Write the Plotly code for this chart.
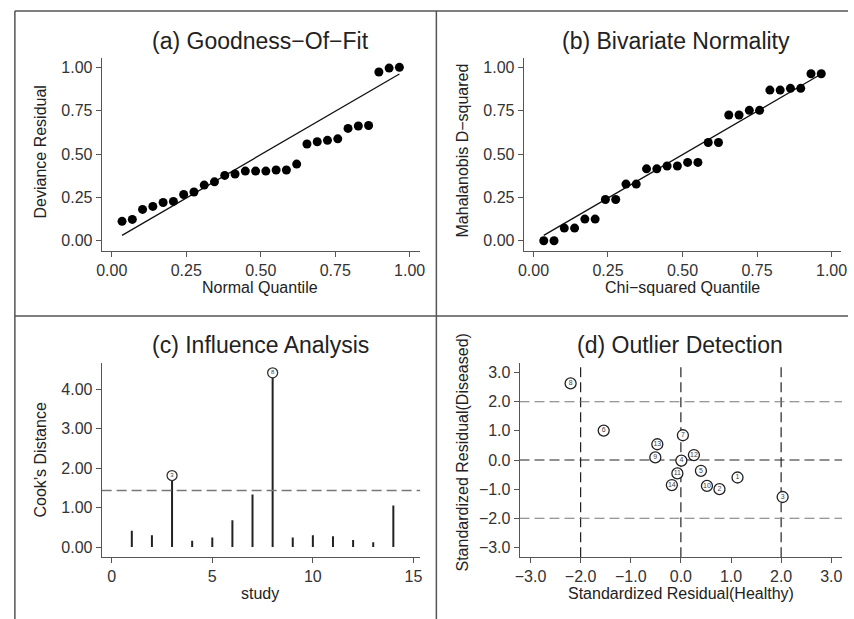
import plotly.graph_objects as go

W, H = 854, 619
FONT = "Liberation Sans, Arial, sans-serif"
MINUS = "\u2212"

# ---------------- data ----------------
quantile_x = [0.0345, 0.0690, 0.1034, 0.1379, 0.1724, 0.2069, 0.2414, 0.2759,
              0.3103, 0.3448, 0.3793, 0.4138, 0.4483, 0.4828, 0.5172, 0.5517,
              0.5862, 0.6207, 0.6552, 0.6897, 0.7241, 0.7586, 0.7931, 0.8276,
              0.8621, 0.8966, 0.9310, 0.9655]
deviance_resid = [0.112, 0.123, 0.181, 0.198, 0.221, 0.227, 0.267, 0.281,
                  0.321, 0.340, 0.377, 0.385, 0.402, 0.402, 0.402, 0.408,
                  0.408, 0.442, 0.558, 0.571, 0.579, 0.588, 0.648, 0.662,
                  0.665, 0.973, 0.996, 1.000]
fit_a_x = [0.0345, 0.9655]
fit_a_y = [0.031, 0.962]

mahal_d2 = [0.000, 0.000, 0.073, 0.073, 0.125, 0.125, 0.238, 0.238,
            0.327, 0.327, 0.415, 0.415, 0.431, 0.431, 0.452, 0.452,
            0.567, 0.567, 0.725, 0.725, 0.752, 0.752, 0.869, 0.869,
            0.879, 0.879, 0.963, 0.963]
fit_b_x = [0.0345, 0.9655]
fit_b_y = [0.031, 0.962]

studies = [1, 2, 3, 4, 5, 6, 7, 8, 9, 10, 11, 12, 13, 14]
cooks_d = [0.41, 0.30, 1.81, 0.16, 0.24, 0.675, 1.33, 4.41, 0.24, 0.30, 0.27, 0.18, 0.12, 1.05]
cooks_threshold = 1.43
influential = [3, 8]

resid_healthy = [1.13, 0.77, 2.03, 0.01, 0.40, -1.54, 0.04, -2.20, -0.51, 0.52, -0.07, 0.26, -0.47, -0.18]
resid_diseased = [-0.60, -1.00, -1.27, -0.02, -0.37, 1.01, 0.85, 2.63, 0.09, -0.89, -0.46, 0.17, 0.54, -0.86]
cut_lines = [-2, 0, 2]

ticks_q = [0, 0.25, 0.5, 0.75, 1.0]
ticks_q_text = ["0.00", "0.25", "0.50", "0.75", "1.00"]
ticks_c_x = [0, 5, 10, 15]
ticks_c_y = [0, 1, 2, 3, 4]
ticks_c_y_text = ["0.00", "1.00", "2.00", "3.00", "4.00"]
ticks_d = [-3, -2, -1, 0, 1, 2, 3]
ticks_d_text = [f"{v:.1f}".replace("-", MINUS) for v in ticks_d]


def px(x):
    return x / W


def py(y):
    return 1 - y / H


fig = go.Figure()

# (a)
fig.add_trace(go.Scatter(x=fit_a_x, y=fit_a_y, mode="lines", line=dict(color="#111", width=1.3),
                         xaxis="x", yaxis="y", showlegend=False, hoverinfo="skip"))
fig.add_trace(go.Scatter(x=quantile_x, y=deviance_resid, mode="markers",
                         marker=dict(color="#000", size=9), xaxis="x", yaxis="y", showlegend=False))
# (b)
fig.add_trace(go.Scatter(x=fit_b_x, y=fit_b_y, mode="lines", line=dict(color="#111", width=1.3),
                         xaxis="x2", yaxis="y2", showlegend=False, hoverinfo="skip"))
fig.add_trace(go.Scatter(x=quantile_x, y=mahal_d2, mode="markers",
                         marker=dict(color="#000", size=9), xaxis="x2", yaxis="y2", showlegend=False))

# (c) stems
sx, sy = [], []
for s, d in zip(studies, cooks_d):
    sx += [s, s, None]
    sy += [0, d, None]
fig.add_trace(go.Scatter(x=sx, y=sy, mode="lines", line=dict(color="#222", width=2),
                         xaxis="x3", yaxis="y3", showlegend=False, hoverinfo="skip"))
fig.add_trace(go.Scatter(x=[-0.5, 15.4], y=[cooks_threshold, cooks_threshold], mode="lines",
                         line=dict(color="#777", width=1.5, dash="10px,5px"),
                         xaxis="x3", yaxis="y3", showlegend=False, hoverinfo="skip"))
inf_x = [s for s in influential]
inf_y = [cooks_d[studies.index(s)] for s in influential]
fig.add_trace(go.Scatter(x=inf_x, y=inf_y, mode="markers+text", text=[str(s) for s in inf_x],
                         textposition="middle center", textfont=dict(size=6, color="#444", family=FONT),
                         marker=dict(size=10, color="white", line=dict(color="#333", width=1.3)),
                         xaxis="x3", yaxis="y3", showlegend=False))

# (d) reference lines
for v in cut_lines:
    fig.add_trace(go.Scatter(x=[v, v], y=[-3.34, 3.34], mode="lines",
                             line=dict(color="#222", width=1.2, dash="10px,5px"),
                             xaxis="x4", yaxis="y4", showlegend=False, hoverinfo="skip"))
for v in cut_lines:
    fig.add_trace(go.Scatter(x=[-3.22, 3.22], y=[v, v], mode="lines",
                             line=dict(color="#222" if v == 0 else "#777", width=1.2, dash="10px,5px"),
                             xaxis="x4", yaxis="y4", showlegend=False, hoverinfo="skip"))
fig.add_trace(go.Scatter(x=resid_healthy, y=resid_diseased, mode="markers+text",
                         text=[str(s) for s in studies], textposition="middle center",
                         textfont=dict(size=7, color="#444", family=FONT),
                         marker=dict(size=11, color="white", line=dict(color="#222", width=1.3)),
                         xaxis="x4", yaxis="y4", showlegend=False))

axis_common = dict(showline=True, linecolor="#555", linewidth=1, ticks="outside", ticklen=5,
                   tickcolor="#555", tickwidth=1, showgrid=False, zeroline=False,
                   tickfont=dict(family=FONT, size=16, color="#333"), fixedrange=True)

dom_x_left = [px(97), px(420)]
dom_x_b = [px(525), px(847)]
dom_x_d = [px(521), px(848)]
dom_y_top = [py(251), py(58)]
dom_y_bot = [py(557), py(363)]

fig.update_layout(
    width=W, height=H, autosize=False,
    margin=dict(l=0, r=0, t=0, b=0),
    paper_bgcolor="white", plot_bgcolor="white",
    font=dict(family=FONT, color="#222"),
    xaxis=dict(axis_common, domain=dom_x_left, range=[-0.034, 1.035], anchor="y",
               tickvals=ticks_q, ticktext=ticks_q_text),
    yaxis=dict(axis_common, domain=dom_y_top, range=[-0.059, 1.054], anchor="x",
               tickvals=ticks_q, ticktext=ticks_q_text),
    xaxis2=dict(axis_common, domain=dom_x_b, range=[-0.033, 1.032], anchor="y2",
                tickvals=ticks_q, ticktext=ticks_q_text),
    yaxis2=dict(axis_common, domain=dom_y_top, range=[-0.059, 1.054], anchor="x2",
                tickvals=ticks_q, ticktext=ticks_q_text),
    xaxis3=dict(axis_common, domain=dom_x_left, range=[-0.5, 15.33], anchor="y3",
                tickvals=ticks_c_x),
    yaxis3=dict(axis_common, domain=dom_y_bot, range=[-0.253, 4.66], anchor="x3",
                tickvals=ticks_c_y, ticktext=ticks_c_y_text),
    xaxis4=dict(axis_common, domain=dom_x_d, range=[-3.216, 3.216], anchor="y4",
                tickvals=ticks_d, ticktext=ticks_d_text),
    yaxis4=dict(axis_common, domain=dom_y_bot, range=[-3.33, 3.33], anchor="x4",
                tickvals=ticks_d, ticktext=ticks_d_text),
)

ann = []


def add_text(text, x, y, size, angle=0):
    ann.append(dict(text=text, x=px(x), y=py(y), xref="paper", yref="paper", showarrow=False,
                    xanchor="center", yanchor="middle", textangle=angle,
                    font=dict(family=FONT, size=size, color="#222")))


add_text(f"(a) Goodness{MINUS}Of{MINUS}Fit", 258, 41, 23)
add_text("(b) Bivariate Normality", 680, 41, 23)
add_text("(c) Influence Analysis", 258, 345, 23)
add_text("(d) Outlier Detection", 684, 345, 23)

add_text("Normal Quantile", 258, 287, 16)
add_text(f"Chi{MINUS}squared Quantile", 686, 287, 16)
add_text("study", 258, 593, 16)
add_text("Standardized Residual(Healthy)", 685, 593, 16)

add_text("Deviance Residual", 35, 152, 16, -90)
add_text(f"Mahalanobis D{MINUS}squared", 463, 150, 16, -90)
add_text("Cook\u2019s Distance", 35, 460, 16, -90)
add_text("Standardized Residual(Diseased)", 463, 452, 16, -90)
fig.update_layout(annotations=ann)

# panel frame lines
frame = dict(type="line", xref="paper", yref="paper", line=dict(color="#555", width=1.5))
fig.update_layout(shapes=[
    dict(frame, x0=px(9), x1=1, y0=py(11), y1=py(11)),
    dict(frame, x0=px(9), x1=px(9), y0=py(11), y1=0),
    dict(frame, x0=px(436.5), x1=px(436.5), y0=py(11), y1=0),
    dict(frame, x0=px(9), x1=1, y0=py(316), y1=py(316)),
])

fig.write_html("out.html", config={"displayModeBar": False})
